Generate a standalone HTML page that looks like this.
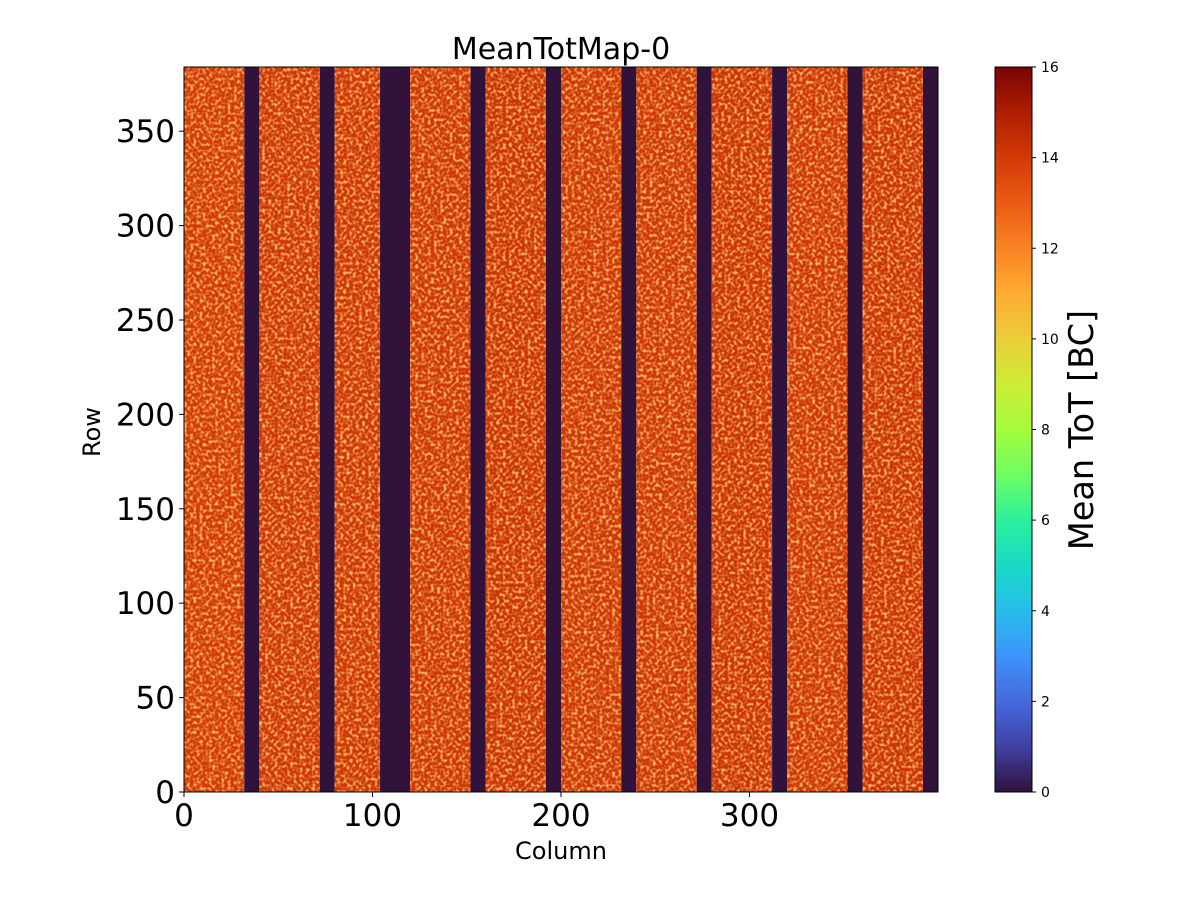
<!DOCTYPE html>
<html><head><meta charset="utf-8"><style>
html,body{margin:0;padding:0;background:#fff;}
svg text{font-family:"DejaVu Sans","Liberation Sans",sans-serif;fill:#000;}
</style></head><body>
<svg id="chart" width="1200" height="900" viewBox="0 0 1200 900">
<defs>
  <linearGradient id="turbo" x1="0" y1="1" x2="0" y2="0">
    <stop offset="0" stop-color="#30123b"/>
    <stop offset="0.0625" stop-color="#4040a4"/>
    <stop offset="0.125" stop-color="#4669dd"/>
    <stop offset="0.1875" stop-color="#3e93fb"/>
    <stop offset="0.25" stop-color="#27bde9"/>
    <stop offset="0.3125" stop-color="#19d9c6"/>
    <stop offset="0.375" stop-color="#2cf09a"/>
    <stop offset="0.4375" stop-color="#6efd64"/>
    <stop offset="0.5" stop-color="#a4fc3c"/>
    <stop offset="0.5625" stop-color="#cdec34"/>
    <stop offset="0.625" stop-color="#eccd3a"/>
    <stop offset="0.6875" stop-color="#fdac32"/>
    <stop offset="0.75" stop-color="#f98323"/>
    <stop offset="0.8125" stop-color="#ea5b14"/>
    <stop offset="0.875" stop-color="#d23a07"/>
    <stop offset="0.9375" stop-color="#ad1e02"/>
    <stop offset="1" stop-color="#7a0403"/>
  </linearGradient>
  <filter id="noise" x="0" y="0" width="100%" height="100%">
    <feTurbulence type="fractalNoise" baseFrequency="0.32" numOctaves="1" seed="5"/>
    <feColorMatrix type="matrix" values="0 0 0 0 0.98  0 0 0 0 0.55  0 0 0 0 0.15  0 0 0 -3.5 1.95"/>
  </filter>
</defs>
<g id="heat"></g>
<g id="axes"></g>
</svg>
<script>
const NS="http://www.w3.org/2000/svg";
// data: column blocks [startCol, endCol] with mean ToT
const blockStarts=[0,32,40,72,80,104,120,152,160,192,200,232,240,272,280,312,320,352,360,392];
const blockEnds  =[32,40,72,80,104,120,152,160,192,200,232,240,272,280,312,320,352,360,392,400];
const blockValues=[14.0,0,14.1,0,14.1,0,14.1,0,14.2,0,14.1,0,14.1,0,14.2,0,14.1,0,14.2,0];
const xTicks=[0,100,200,300];
const yTicks=[0,50,100,150,200,250,300,350];
const cTicks=[0,2,4,6,8,10,12,14,16];
const nCols=400,nRows=384,vmax=16;
const L=184,R=938,T=67,B=792;
const sx=c=>L+(R-L)*c/nCols, sy=r=>B-(B-T)*r/nRows;
const cbX=995,cbW=37, cy=v=>B-(B-T)*v/vmax;
const turbo=["#30123b","#4040a4","#4669dd","#3e93fb","#27bde9","#19d9c6","#2cf09a","#6efd64","#a4fc3c","#cdec34","#eccd3a","#fdac32","#f98323","#ea5b14","#d23a07","#ad1e02","#7a0403"];
function hx(h){return [1,3,5].map(i=>parseInt(h.substr(i,2),16));}
function col(v){v=Math.max(0,Math.min(16,v));const i=Math.min(15,Math.floor(v)),f=v-i;const a=hx(turbo[i]),b=hx(turbo[i+1]);return 'rgb('+a.map((x,k)=>Math.round(x+(b[k]-x)*f)).join(',')+')';}
function mk(tag,attrs,parent){const e=document.createElementNS(NS,tag);for(const k in attrs)e.setAttribute(k,attrs[k]);parent.appendChild(e);return e;}
const heat=document.getElementById('heat'), axes=document.getElementById('axes');
blockStarts.forEach((s,i)=>{
  const r=mk('rect',{x:sx(s),y:T,width:sx(blockEnds[i])-sx(s),height:B-T,fill:col(blockValues[i])},heat);
  
  
  if(blockValues[i]>0){
    const n=mk('rect',{x:sx(s),y:T,width:sx(blockEnds[i])-sx(s),height:B-T,filter:'url(#noise)',opacity:0.9},heat);
    
    
  }
});
const frame=mk('rect',{x:L,y:T,width:R-L,height:B-T,fill:'none',stroke:'#000','stroke-width':1},axes);


xTicks.forEach(t=>{
  mk('line',{x1:sx(t),x2:sx(t),y1:B,y2:B+5,stroke:'#000'},axes);
  const tx=mk('text',{x:sx(t),y:B+34,'font-size':31,'text-anchor':'middle'},axes);tx.textContent=t;
  
  
});
yTicks.forEach(t=>{
  mk('line',{x1:L-5,x2:L,y1:sy(t),y2:sy(t),stroke:'#000'},axes);
  const tx=mk('text',{x:L-9,y:sy(t)+11,'font-size':31,'text-anchor':'end'},axes);tx.textContent=t;
  
  
});
const cb=mk('rect',{x:cbX,y:T,width:cbW,height:B-T,fill:'url(#turbo)',stroke:'#000','stroke-width':1},axes);


cTicks.forEach(t=>{
  mk('line',{x1:cbX+cbW,x2:cbX+cbW+4,y1:cy(t),y2:cy(t),stroke:'#000'},axes);
  const tx=mk('text',{x:cbX+cbW+9,y:cy(t)+5,'font-size':14},axes);tx.textContent=t;
  
  
});
function label(txt,x,y,size,name,rot){const t=mk('text',{x:x,y:y,'font-size':size,'text-anchor':'middle'},axes);if(rot)t.setAttribute('transform','rotate(-90 '+x+' '+y+')');t.textContent=txt;
  
  }
label('MeanTotMap-0',561,59,30,'chart-title');
label('Column',561,859,24,'x-axis-title');
label('Row',100,432,24,'y-axis-title',true);
label('Mean ToT [BC]',1093,430,33.5,'colorbar-title',true);
</script>
</body></html>
